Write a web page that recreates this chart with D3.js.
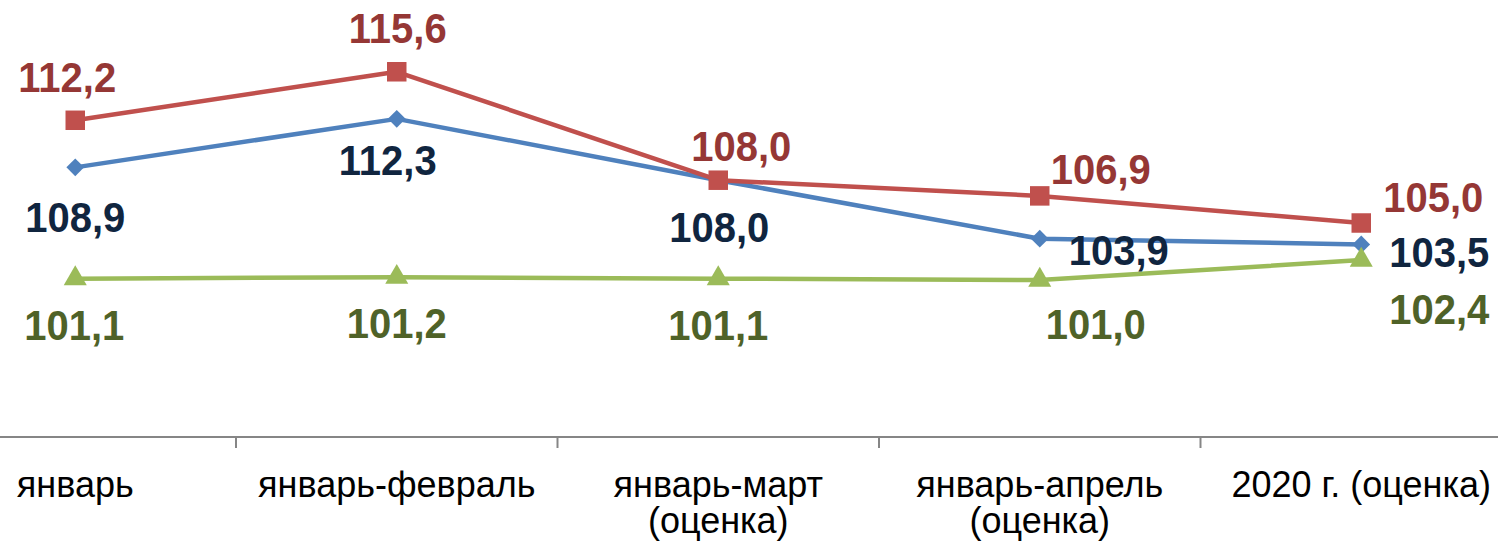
<!DOCTYPE html>
<html>
<head>
<meta charset="utf-8">
<script src="https://cdn.jsdelivr.net/npm/d3@7"></script>
<style>
  body { margin: 0; background: #fff; }
  svg { display: block; font-family: "Liberation Sans", Arial, sans-serif; }
</style>
</head>
<body>
<script>
var categories = ["январь", "январь-февраль", "январь-март\n(оценка)", "январь-апрель\n(оценка)", "2020 г. (оценка)"];

var redValues = [112.2, 115.6, 108.0, 106.9, 105.0];
var blueValues = [108.9, 112.3, 108.0, 103.9, 103.5];
var greenValues = [101.1, 101.2, 101.1, 101.0, 102.4];

// label offsets (dx, dy of baseline) from the point, per series
var redOffsets = [[-8, -28], [1, -29], [23, -19], [61, -12], [72, -11]];
var blueOffsets = [[0, 65], [-9, 56], [1, 62], [79, 26], [78, 23]];
var greenOffsets = [[-1, 61], [0, 61], [0, 61], [56, 59], [78, 64]];

var width = 1498,
    height = 548;

var svg = d3.select("body").append("svg")
    .attr("width", width)
    .attr("height", height);

var x = d3.scaleBand()
    .domain(categories)
    .range([-85.5, 1522]);

var y = d3.scaleLinear()
    .domain([90, 120])
    .range([437, 9]);

var cx = function(i) { return x(categories[i]) + x.bandwidth() / 2; };

// axis line and ticks
svg.append("line")
    .attr("x1", 0).attr("x2", width)
    .attr("y1", y(90)).attr("y2", y(90))
    .attr("stroke", "#868686")
    .attr("stroke-width", 2);

svg.selectAll(".tick")
    .data(categories.slice(1))
    .enter().append("line")
    .attr("x1", function(d) { return x(d); })
    .attr("x2", function(d) { return x(d); })
    .attr("y1", y(90)).attr("y2", y(90) + 11)
    .attr("stroke", "#868686")
    .attr("stroke-width", 2);

// category labels
svg.selectAll(".cat")
    .data(categories)
    .enter().append("text")
    .attr("class", "cat")
    .attr("text-anchor", "middle")
    .attr("font-size", 36)
    .attr("fill", "#000")
    .attr("transform", function(d) { return "translate(" + (x(d) + x.bandwidth() / 2) + ",497) scale(1,1.05)"; })
    .each(function(d) {
      var t = d3.select(this);
      d.split("\n").forEach(function(s, k) {
        t.append("tspan").attr("x", 0).attr("y", k * 34).text(s);
      });
    });

var line = d3.line()
    .x(function(d, i) { return cx(i); })
    .y(function(d) { return y(d); });

function drawSeries(values, color, labelColor, offsets, symbol, size) {
  var g = svg.append("g");
  g.append("path")
    .datum(values)
    .attr("d", line)
    .attr("fill", "none")
    .attr("stroke", color)
    .attr("stroke-width", 4.5)
    .attr("stroke-linejoin", "round");

  g.selectAll(".m")
    .data(values)
    .enter().append("path")
    .attr("d", d3.symbol().type(symbol).size(size))
    .attr("transform", function(d, i) { return "translate(" + cx(i) + "," + y(d) + ")"; })
    .attr("fill", color);

  return g;
}

function drawLabels(values, labelColor, offsets) {
  svg.append("g").selectAll("text")
    .data(values)
    .enter().append("text")
    .attr("text-anchor", "middle")
    .attr("font-size", 40)
    .attr("font-weight", "bold")
    .attr("fill", labelColor)
    .attr("transform", function(d, i) {
      return "translate(" + (cx(i) + offsets[i][0]) + "," + (y(d) + offsets[i][1]) + ") scale(1,1.05)";
    })
    .text(function(d) { return d.toFixed(1).replace(".", ","); });
}

drawSeries(blueValues, "#4F81BD", "#10253F", blueOffsets, d3.symbolDiamond2, 200);
drawSeries(redValues, "#C0504D", "#953735", redOffsets, d3.symbolSquare, 380);
drawSeries(greenValues, "#9BBB59", "#4F6228", greenOffsets, d3.symbolTriangle, 230);

drawLabels(redValues, "#953735", redOffsets);
drawLabels(blueValues, "#10253F", blueOffsets);
drawLabels(greenValues, "#4F6228", greenOffsets);
</script>
</body>
</html>
